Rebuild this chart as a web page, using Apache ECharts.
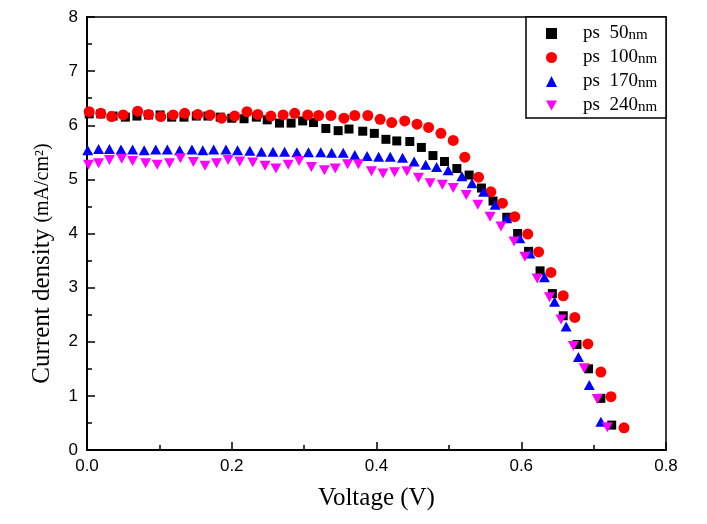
<!DOCTYPE html>
<html>
<head>
<meta charset="utf-8">
<script src="https://cdn.jsdelivr.net/npm/echarts@6/dist/echarts.min.js"></script>
<style>
html,body{margin:0;padding:0;background:#fff;}
#chart{width:707px;height:524px;}
</style>
</head>
<body>
<div id="chart"></div>
<script>
// ---- Data ----
var seriesNames = ['ps 50nm', 'ps 100nm', 'ps 170nm', 'ps 240nm'];

var ps50V = [0.003,0.019,0.036,0.053,0.069,0.085,0.101,0.117,0.134,0.151,0.167,0.184,0.200,0.217,0.234,0.249,0.266,0.282,0.298,0.313,0.330,0.347,0.362,0.381,0.397,0.413,0.428,0.446,0.462,0.478,0.494,0.511,0.528,0.545,0.561,0.580,0.595,0.610,0.626,0.643,0.658,0.677,0.693,0.710,0.725];
var ps50J = [6.21,6.21,6.17,6.15,6.17,6.19,6.19,6.15,6.15,6.17,6.17,6.15,6.13,6.12,6.15,6.10,6.04,6.04,6.08,6.05,5.94,5.90,5.93,5.89,5.85,5.74,5.71,5.70,5.59,5.44,5.33,5.20,5.08,4.84,4.60,4.30,4.00,3.67,3.31,2.89,2.48,1.95,1.50,0.955,0.46];

var ps100V = [0.003,0.019,0.034,0.050,0.070,0.085,0.102,0.119,0.135,0.153,0.170,0.186,0.204,0.221,0.236,0.254,0.271,0.287,0.305,0.320,0.337,0.355,0.370,0.388,0.405,0.421,0.439,0.456,0.472,0.489,0.506,0.522,0.541,0.558,0.574,0.591,0.609,0.624,0.641,0.658,0.674,0.692,0.710,0.724,0.742];
var ps100J = [6.25,6.22,6.16,6.19,6.26,6.20,6.16,6.19,6.22,6.20,6.19,6.13,6.17,6.25,6.20,6.17,6.19,6.22,6.19,6.18,6.18,6.13,6.18,6.18,6.11,6.05,6.08,6.02,5.96,5.85,5.72,5.41,5.04,4.77,4.56,4.31,3.99,3.66,3.28,2.85,2.45,1.96,1.44,0.985,0.41];

var ps170V = [0.001,0.016,0.031,0.047,0.063,0.079,0.095,0.111,0.128,0.145,0.160,0.175,0.192,0.208,0.225,0.241,0.257,0.273,0.290,0.306,0.323,0.338,0.354,0.370,0.387,0.403,0.419,0.436,0.452,0.468,0.483,0.499,0.518,0.532,0.548,0.564,0.580,0.598,0.612,0.632,0.646,0.662,0.679,0.694,0.710,0.727];
var ps170J = [5.54,5.56,5.56,5.55,5.55,5.54,5.55,5.55,5.54,5.55,5.54,5.55,5.55,5.54,5.53,5.51,5.51,5.51,5.50,5.50,5.50,5.49,5.49,5.45,5.43,5.42,5.42,5.40,5.33,5.27,5.23,5.17,5.06,4.93,4.77,4.53,4.28,3.91,3.63,3.19,2.74,2.28,1.72,1.20,0.52,-0.02];

var ps240V = [0.002,0.016,0.031,0.048,0.063,0.081,0.097,0.114,0.129,0.147,0.163,0.179,0.195,0.211,0.229,0.246,0.261,0.278,0.293,0.310,0.328,0.343,0.360,0.375,0.393,0.409,0.425,0.442,0.458,0.474,0.491,0.506,0.524,0.540,0.557,0.572,0.590,0.605,0.622,0.639,0.655,0.672,0.687,0.705,0.719];
var ps240J = [5.27,5.30,5.36,5.38,5.34,5.30,5.27,5.30,5.39,5.32,5.25,5.30,5.36,5.33,5.31,5.25,5.20,5.27,5.34,5.23,5.17,5.20,5.28,5.28,5.15,5.11,5.13,5.15,5.03,4.93,4.90,4.84,4.71,4.53,4.31,4.13,3.85,3.57,3.17,2.82,2.41,1.92,1.51,0.94,0.42];

var xTicks = [0, 0.2, 0.4, 0.6, 0.8];
var yTicks = [0, 1, 2, 3, 4, 5, 6, 7, 8];

function pairs(xs, ys) {
  var out = [];
  for (var i = 0; i < xs.length; i++) out.push([xs[i], ys[i]]);
  return out;
}

var chart = echarts.init(document.getElementById('chart'), null, {renderer: 'canvas'});

var serif = '"Liberation Serif", "DejaVu Serif", serif';
var sans = '"Liberation Sans", Arial, sans-serif';

var option = {
  backgroundColor: '#ffffff',
  animation: false,
  grid: {
    left: 87, right: 41, top: 17, bottom: 74,
    show: true, borderColor: '#000', borderWidth: 1.5, backgroundColor: 'transparent'
  },
  legend: {
    orient: 'vertical',
    left: 526, top: 17,
    padding: [7, 9, 3, 20],
    itemWidth: 11, itemHeight: 11,
    itemGap: 5,
    borderColor: '#000', borderWidth: 1.5,
    backgroundColor: '#fff',
    data: seriesNames,
    formatter: function (name) {
      var m = name.match(/^ps (\d+)nm$/);
      return '{a|ps  ' + m[1] + '}{b|nm}';
    },
    textStyle: {
      color: '#000',
      rich: {
        a: {fontFamily: serif, fontSize: 19, lineHeight: 18, color: '#000', padding: [0, 0, 0, 21]},
        b: {fontFamily: serif, fontSize: 15, lineHeight: 14, verticalAlign: 'bottom', color: '#000'}
      }
    }
  },
  xAxis: {
    type: 'value',
    min: xTicks[0], max: xTicks[xTicks.length - 1], interval: 0.2,
    name: 'Voltage (V)',
    nameLocation: 'middle',
    nameGap: 36,
    nameTextStyle: {fontFamily: serif, fontSize: 25, color: '#000'},
    axisLine: {show: true, onZero: false, lineStyle: {color: '#000', width: 2}},
    axisTick: {show: true, inside: true, length: 8, lineStyle: {color: '#000', width: 1.5}},
    minorTick: {show: true, splitNumber: 2, length: 5, lineStyle: {color: '#000', width: 1.5}},
    axisLabel: {
      color: '#000', fontFamily: sans, fontSize: 17, margin: 8,
      formatter: function (v) { return v.toFixed(1); }
    },
    splitLine: {show: false}
  },
  yAxis: {
    type: 'value',
    min: yTicks[0], max: yTicks[yTicks.length - 1], interval: 1,
    name: '{a|Current density }{b|(mA/cm²)}',
    nameLocation: 'middle',
    nameGap: 32,
    nameRotate: 90,
    nameTextStyle: {
      color: '#000',
      padding: [0, 60, 0, 0],
      rich: {
        a: {fontFamily: serif, fontSize: 25, color: '#000'},
        b: {fontFamily: serif, fontSize: 20, color: '#000'}
      }
    },
    axisLine: {show: true, onZero: false, lineStyle: {color: '#000', width: 2}},
    axisTick: {show: true, inside: true, length: 8, lineStyle: {color: '#000', width: 1.5}},
    minorTick: {show: true, splitNumber: 2, length: 5, lineStyle: {color: '#000', width: 1.5}},
    axisLabel: {color: '#000', fontFamily: sans, fontSize: 17, margin: 9},
    splitLine: {show: false}
  },
  series: [
    {
      name: seriesNames[0], type: 'scatter',
      symbol: 'rect', symbolSize: 9,
      itemStyle: {color: '#000000', opacity: 1},
      data: pairs(ps50V, ps50J)
    },
    {
      name: seriesNames[1], type: 'scatter',
      symbol: 'circle', symbolSize: 11,
      itemStyle: {color: '#ff0000', opacity: 1},
      data: pairs(ps100V, ps100J)
    },
    {
      name: seriesNames[2], type: 'scatter',
      symbol: 'triangle', symbolSize: [11, 10],
      itemStyle: {color: '#0000ff', opacity: 1},
      data: pairs(ps170V, ps170J)
    },
    {
      name: seriesNames[3], type: 'scatter',
      symbol: 'path://M0,0L10,0L5,9Z', symbolSize: [11, 10],
      itemStyle: {color: '#ff00ff', opacity: 1},
      data: pairs(ps240V, ps240J)
    }
  ]
};

chart.setOption(option);
</script>
</body>
</html>
